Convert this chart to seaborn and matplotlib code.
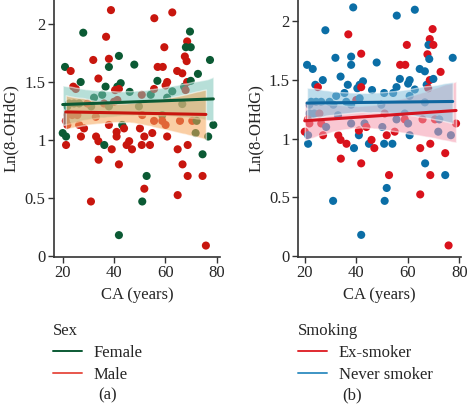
import matplotlib

matplotlib.use("Agg")

import matplotlib.pyplot as plt
import numpy as np
import pandas as pd
import seaborn as sns
from matplotlib.lines import Line2D
from matplotlib.ticker import FormatStrFormatter

# one row per subject: age (CA), Ln(8-OHdG), sex, smoking status
ca_years = [
    38.8, 55.7, 62.7, 28.0, 36.9, 69.6, 68.5, 59.6, 68.0, 69.9,
    67.6, 68.3, 31.9, 38.0, 41.9, 38.0, 47.9, 77.4, 57.0, 59.0,
    20.9, 23.1, 64.6, 66.6, 72.7, 33.9, 27.0, 24.1, 25.1, 36.7,
    42.6, 41.3, 40.4, 41.9, 46.1, 50.8, 54.3, 55.6, 56.9, 60.1,
    60.7, 62.7, 67.3, 68.5, 67.9, 69.9, 32.2, 35.4, 60.7, 40.0,
    41.3, 36.1, 22.5, 24.4, 26.4, 21.8, 31.1, 38.0, 49.7, 66.6,
    51.0, 58.8, 21.8, 23.7, 25.7, 32.9, 21.2, 26.4, 28.3, 21.8,
    38.0, 43.2, 55.6, 58.8, 60.1, 65.7, 70.5, 72.2, 78.7, 20.0,
    21.3, 21.3, 27.1, 33.0, 33.9, 34.0, 36.2, 39.1, 41.0, 41.0,
    41.9, 44.9, 45.9, 47.0, 50.8, 51.8, 54.0, 54.9, 52.7, 51.8,
    51.0, 31.0, 41.9, 60.7, 64.8, 66.7, 68.7, 68.7, 64.8, 71.8,
    76.7, 74.5, 74.5, 75.8, 43.9, 50.1, 29.6,
]
ln_ohdg = [
    2.12, 2.05, 2.10, 1.925, 1.89, 1.935, 1.85, 1.80, 1.80, 1.80,
    1.72, 1.68, 1.69, 1.70, 1.725, 1.63, 1.65, 1.69, 1.63, 1.63,
    1.63, 1.595, 1.595, 1.575, 1.57, 1.53, 1.50, 1.46, 1.44, 1.46,
    1.49, 1.46, 1.43, 1.44, 1.415, 1.39, 1.39, 1.44, 1.51, 1.47,
    1.50, 1.42, 1.46, 1.50, 1.43, 1.51, 1.365, 1.39, 1.365, 1.33,
    1.345, 1.315, 1.315, 1.315, 1.315, 1.29, 1.29, 1.29, 1.29, 1.31,
    1.215, 1.215, 1.215, 1.215, 1.215, 1.20, 1.165, 1.13, 1.10, 1.13,
    1.13, 1.13, 1.165, 1.165, 1.13, 1.165, 1.165, 1.165, 1.13, 1.06,
    1.03, 0.957, 1.03, 1.03, 0.99, 0.83, 0.957, 0.92, 1.03, 1.07,
    0.79, 0.957, 0.99, 0.92, 0.957, 1.03, 0.957, 1.06, 0.69, 0.58,
    0.47, 0.47, 0.18, 1.03, 0.92, 0.79, 0.957, 0.69, 0.525, 1.06,
    1.03, 0.877, 0.69, 0.09, 1.10, 1.10, 1.315,
]
sex = list(
    "MMMFMFMMFF"
    "MMMMFFFFMM"
    "FMMMFMFMMF"
    "FFMMFMFMFM"
    "MFFMMFFFFM"
    "MMFFFFFFFF"
    "MFMMMMMMMM"
    "MFMMMMMFFF"
    "FMMMMMFMMM"
    "MMMMMMMMFM"
    "FMFMMMMMMF"
    "FFMMMMM"
)
smoking = list(
    "NNNNEEEENE"
    "ENNNENNNEE"
    "NNNNENNNEN"
    "NNNENNNNNN"
    "NNNEENNNNE"
    "NNNNNNNNNN"
    "ENNNENEENE"
    "NNNENEENEE"
    "NNEEEEENNE"
    "ENEENENEEN"
    "NNNNENEEEN"
    "NENEENN"
)

sex_names = {"F": "Female", "M": "Male"}
smoking_names = {"E": "Ex-smoker", "N": "Never smoker"}

data = pd.DataFrame({
    "ca": ca_years,
    "ln_ohdg": ln_ohdg,
    "Sex": [sex_names[s] for s in sex],
    "Smoking": [smoking_names[s] for s in smoking],
})

sns.set_style("ticks")
plt.rcParams["font.family"] = ["Liberation Serif", "DejaVu Serif"]
plt.rcParams["font.size"] = 12

point_colors = {
    "Female": "#0b5a34", "Male": "#c8160e",
    "Ex-smoker": "#d9121c", "Never smoker": "#0b6ea6",
}
line_colors = {
    "Female": "#0b5a34", "Male": "#c8160e",
    "Ex-smoker": "#d51420", "Never smoker": "#0f67a0",
}
band_colors = {
    "Female": "#7cc6b8", "Male": "#f6a75a",
    "Ex-smoker": "#f59aae", "Never smoker": "#86c0dc",
}
legend_colors = {
    "Female": "#0b5a34", "Male": "#e8564c",
    "Ex-smoker": "#e02a30", "Never smoker": "#3d94c4",
}


def draw_panel(ax, column, levels, xlim, ylim, letter, legend_x, letter_x):
    sns.scatterplot(
        data=data, x="ca", y="ln_ohdg", hue=column, hue_order=levels,
        palette=point_colors, s=34, edgecolor="none", legend=False, ax=ax, zorder=2,
    )
    for level in levels:
        subset = data[data[column] == level]
        before = len(ax.collections)
        sns.regplot(data=subset, x="ca", y="ln_ohdg", scatter=False, ci=95,
                    color=band_colors[level], line_kws={"alpha": 0}, ax=ax)
        for band in ax.collections[before:]:
            band.set_alpha(0.55)
            band.set_zorder(3)
    for level in levels:
        subset = data[data[column] == level]
        sns.regplot(data=subset, x="ca", y="ln_ohdg", scatter=False, ci=None,
                    color=line_colors[level], line_kws={"lw": 2.2, "zorder": 4}, ax=ax)

    ax.set_xlim(*xlim)
    ax.set_ylim(*ylim)
    ax.set_xticks([20, 40, 60, 80])
    ax.set_yticks([0, 0.5, 1, 1.5, 2])
    ax.yaxis.set_major_formatter(FormatStrFormatter("%g"))
    ax.set_xlabel("CA (years)", fontsize=12, labelpad=4)
    ax.set_ylabel("Ln(8-OHdG)", fontsize=12, labelpad=4)
    ax.tick_params(labelsize=12, length=4, width=1, color="#333333", pad=2)
    for side in ["left", "bottom"]:
        ax.spines[side].set_linewidth(1.2)
        ax.spines[side].set_color("#333333")
    sns.despine(ax=ax)

    handles = [Line2D([], [], color=legend_colors[level], lw=1.4) for level in levels]
    fig.legend(
        handles, levels, title=column, loc="upper left", frameon=False,
        bbox_to_anchor=(legend_x, 0.218), alignment="left", fontsize=12,
        title_fontsize=12, handlelength=1.75, handletextpad=0.7, labelspacing=0.35,
        borderaxespad=0, borderpad=0,
    )
    fig.text(letter_x, 1 - 395 / 413, letter, ha="center", va="center", fontsize=12)


fig = plt.figure(figsize=(4.68, 4.13), dpi=100)
ax_a = fig.add_axes([54 / 468, 1 - 256.7 / 413, 166 / 468, 256.7 / 413])
ax_b = fig.add_axes([298.3 / 468, 1 - 256.7 / 413, 162.4 / 468, 256.7 / 413])

draw_panel(ax_a, "Sex", ["Female", "Male"], (16.6, 81.3), (-0.006, 2.207), "(a)", 0.113, 108 / 468)
draw_panel(ax_b, "Smoking", ["Ex-smoker", "Never smoker"], (17.5, 80.5), (-0.006, 2.183), "(b)", 0.637, 352 / 468)

fig.savefig("out.png", dpi=100)
